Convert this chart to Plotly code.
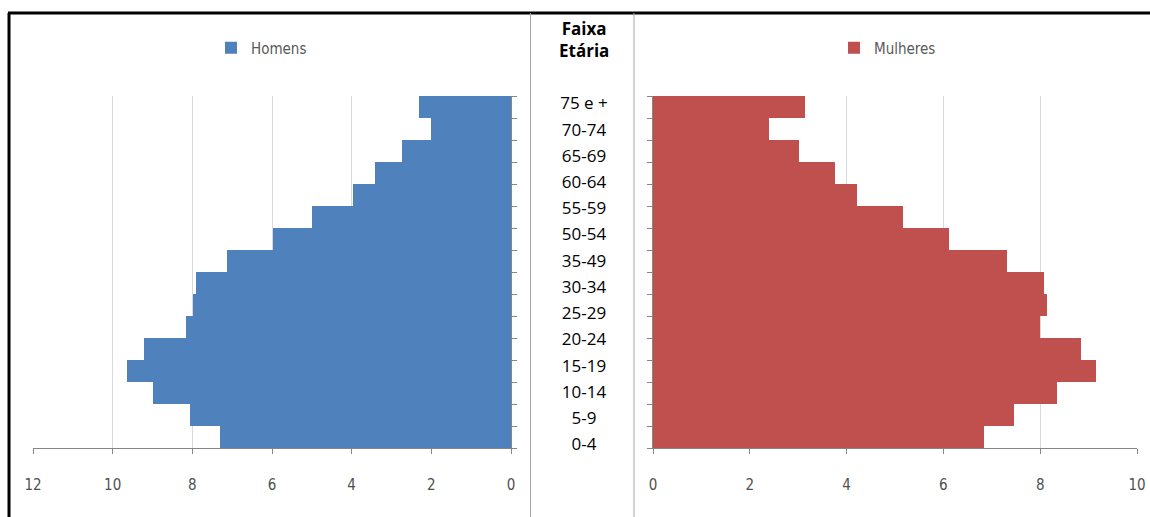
import plotly.graph_objects as go

W, H = 1150, 517

age_groups = ["0-4", "5-9", "10-14", "15-19", "20-24", "25-29", "30-34", "35-39",
              "40-44", "45-49", "50-54", "55-59", "60-64", "65-69", "70-74", "75 e +"]
homens = [7.30, 8.05, 8.98, 9.64, 9.21, 8.15, 7.98, 7.90,
          7.12, 5.98, 4.99, 3.97, 3.41, 2.73, 2.02, 2.32]
mulheres = [6.83, 7.45, 8.35, 9.15, 8.84, 8.00, 8.15, 8.08,
            7.31, 6.11, 5.17, 4.21, 3.76, 3.01, 2.39, 3.14]
mid_labels = ["75 e +", "70-74", "65-69", "60-64", "55-59", "50-54", "35-49",
              "30-34", "25-29", "20-24", "15-19", "10-14", "5-9", "0-4"]
x_ticks_left = [0, 2, 4, 6, 8, 10, 12]
x_ticks_right = [0, 2, 4, 6, 8, 10]

BLUE = "#4F81BD"
RED = "#C0504D"
GRID = "#D9D9D9"
AXIS = "#868686"
TICKFONT = dict(family="Liberation Sans Narrow, DejaVu Sans Condensed, sans-serif", size=15, color="#505050")
LEGFONT = dict(family="Liberation Sans Narrow, DejaVu Sans Condensed, sans-serif", size=15, color="#595959")
MIDFONT = dict(family="Open Sans, sans-serif", size=17, color="#000000")

def px(x):
    return x / W

def py(y):
    return 1 - y / H

fig = go.Figure()

fig.add_trace(go.Bar(
    x=homens, y=age_groups, orientation="h", name="Homens",
    marker=dict(color=BLUE, line=dict(width=0)), width=1.0,
    xaxis="x", yaxis="y", legend="legend", hoverinfo="x+y",
))
fig.add_trace(go.Bar(
    x=mulheres, y=age_groups, orientation="h", name="Mulheres",
    marker=dict(color=RED, line=dict(width=0)), width=1.0,
    xaxis="x2", yaxis="y2", legend="legend2", hoverinfo="x+y",
))
fig.add_trace(go.Scatter(
    x=[0] * len(mid_labels), y=mid_labels, mode="text", text=mid_labels,
    textfont=MIDFONT, textposition="middle center", showlegend=False,
    xaxis="x3", yaxis="y3", hoverinfo="skip", cliponaxis=False,
))

ydom = [py(448), py(96)]
common_y = dict(
    type="category", categoryorder="array", categoryarray=age_groups,
    range=[-0.5, len(age_groups) - 0.5],
    showticklabels=False, ticks="outside", ticklen=5, tickcolor=AXIS,
    tickson="boundaries", showline=True, linecolor=AXIS, linewidth=1,
    showgrid=False, zeroline=False, domain=ydom, fixedrange=True, automargin=False,
)
common_x = dict(
    dtick=2, showgrid=True, gridcolor=GRID, gridwidth=1, zeroline=False,
    showline=True, linecolor=AXIS, linewidth=1, ticks="outside", ticklen=5,
    tickcolor=AXIS, tickfont=TICKFONT, ticklabelstandoff=18, fixedrange=True,
    automargin=False,
)

fig.update_layout(
    width=W, height=H, autosize=False,
    margin=dict(l=0, r=0, t=0, b=0, pad=0, autoexpand=False),
    paper_bgcolor="white", plot_bgcolor="white",
    barmode="overlay", bargap=0,
    xaxis=dict(common_x, domain=[px(33), px(511)], range=[12, 0],
               tickvals=x_ticks_left, anchor="y"),
    yaxis=dict(common_y, anchor="x", side="right"),
    xaxis2=dict(common_x, domain=[px(653), px(1137)], range=[0, 10],
                tickvals=x_ticks_right, anchor="y2"),
    yaxis2=dict(common_y, anchor="x2", side="left"),
    xaxis3=dict(domain=[px(540), px(628)], range=[-1, 1], visible=False, fixedrange=True),
    yaxis3=dict(type="category", categoryorder="array", categoryarray=mid_labels[::-1],
                range=[-0.5, len(mid_labels) - 0.5],
                domain=[py(459), py(92)], visible=False, anchor="x3", fixedrange=True),
    legend=dict(x=px(211), y=py(48), xanchor="left", yanchor="middle",
                font=LEGFONT, bgcolor="rgba(0,0,0,0)", itemwidth=30),
    legend2=dict(x=px(834), y=py(48), xanchor="left", yanchor="middle",
                 font=LEGFONT, bgcolor="rgba(0,0,0,0)", itemwidth=30),
    showlegend=True,
)

fig.add_annotation(x=px(584), y=py(40), xref="paper", yref="paper",
                   text="<b>Faixa<br>Etária</b>", showarrow=False,
                   font=MIDFONT, align="center", xanchor="center", yanchor="middle")

# frame lines
fig.add_shape(type="line", xref="paper", yref="paper", x0=px(8), x1=1, y0=py(13), y1=py(13),
              line=dict(color="black", width=3))
fig.add_shape(type="line", xref="paper", yref="paper", x0=px(9), x1=px(9), y0=py(13), y1=0,
              line=dict(color="black", width=3))
fig.add_shape(type="line", xref="paper", yref="paper", x0=px(530.5), x1=px(530.5), y0=py(13), y1=0,
              line=dict(color="#A6A6A6", width=1))
fig.add_shape(type="line", xref="paper", yref="paper", x0=px(634), x1=px(634), y0=py(13), y1=0,
              line=dict(color="#A6A6A6", width=1))

fig.write_html(
    "out.html",
    config={"displayModeBar": False},
    post_script="document.body.style.margin='0';document.body.style.overflow='hidden';",
)
